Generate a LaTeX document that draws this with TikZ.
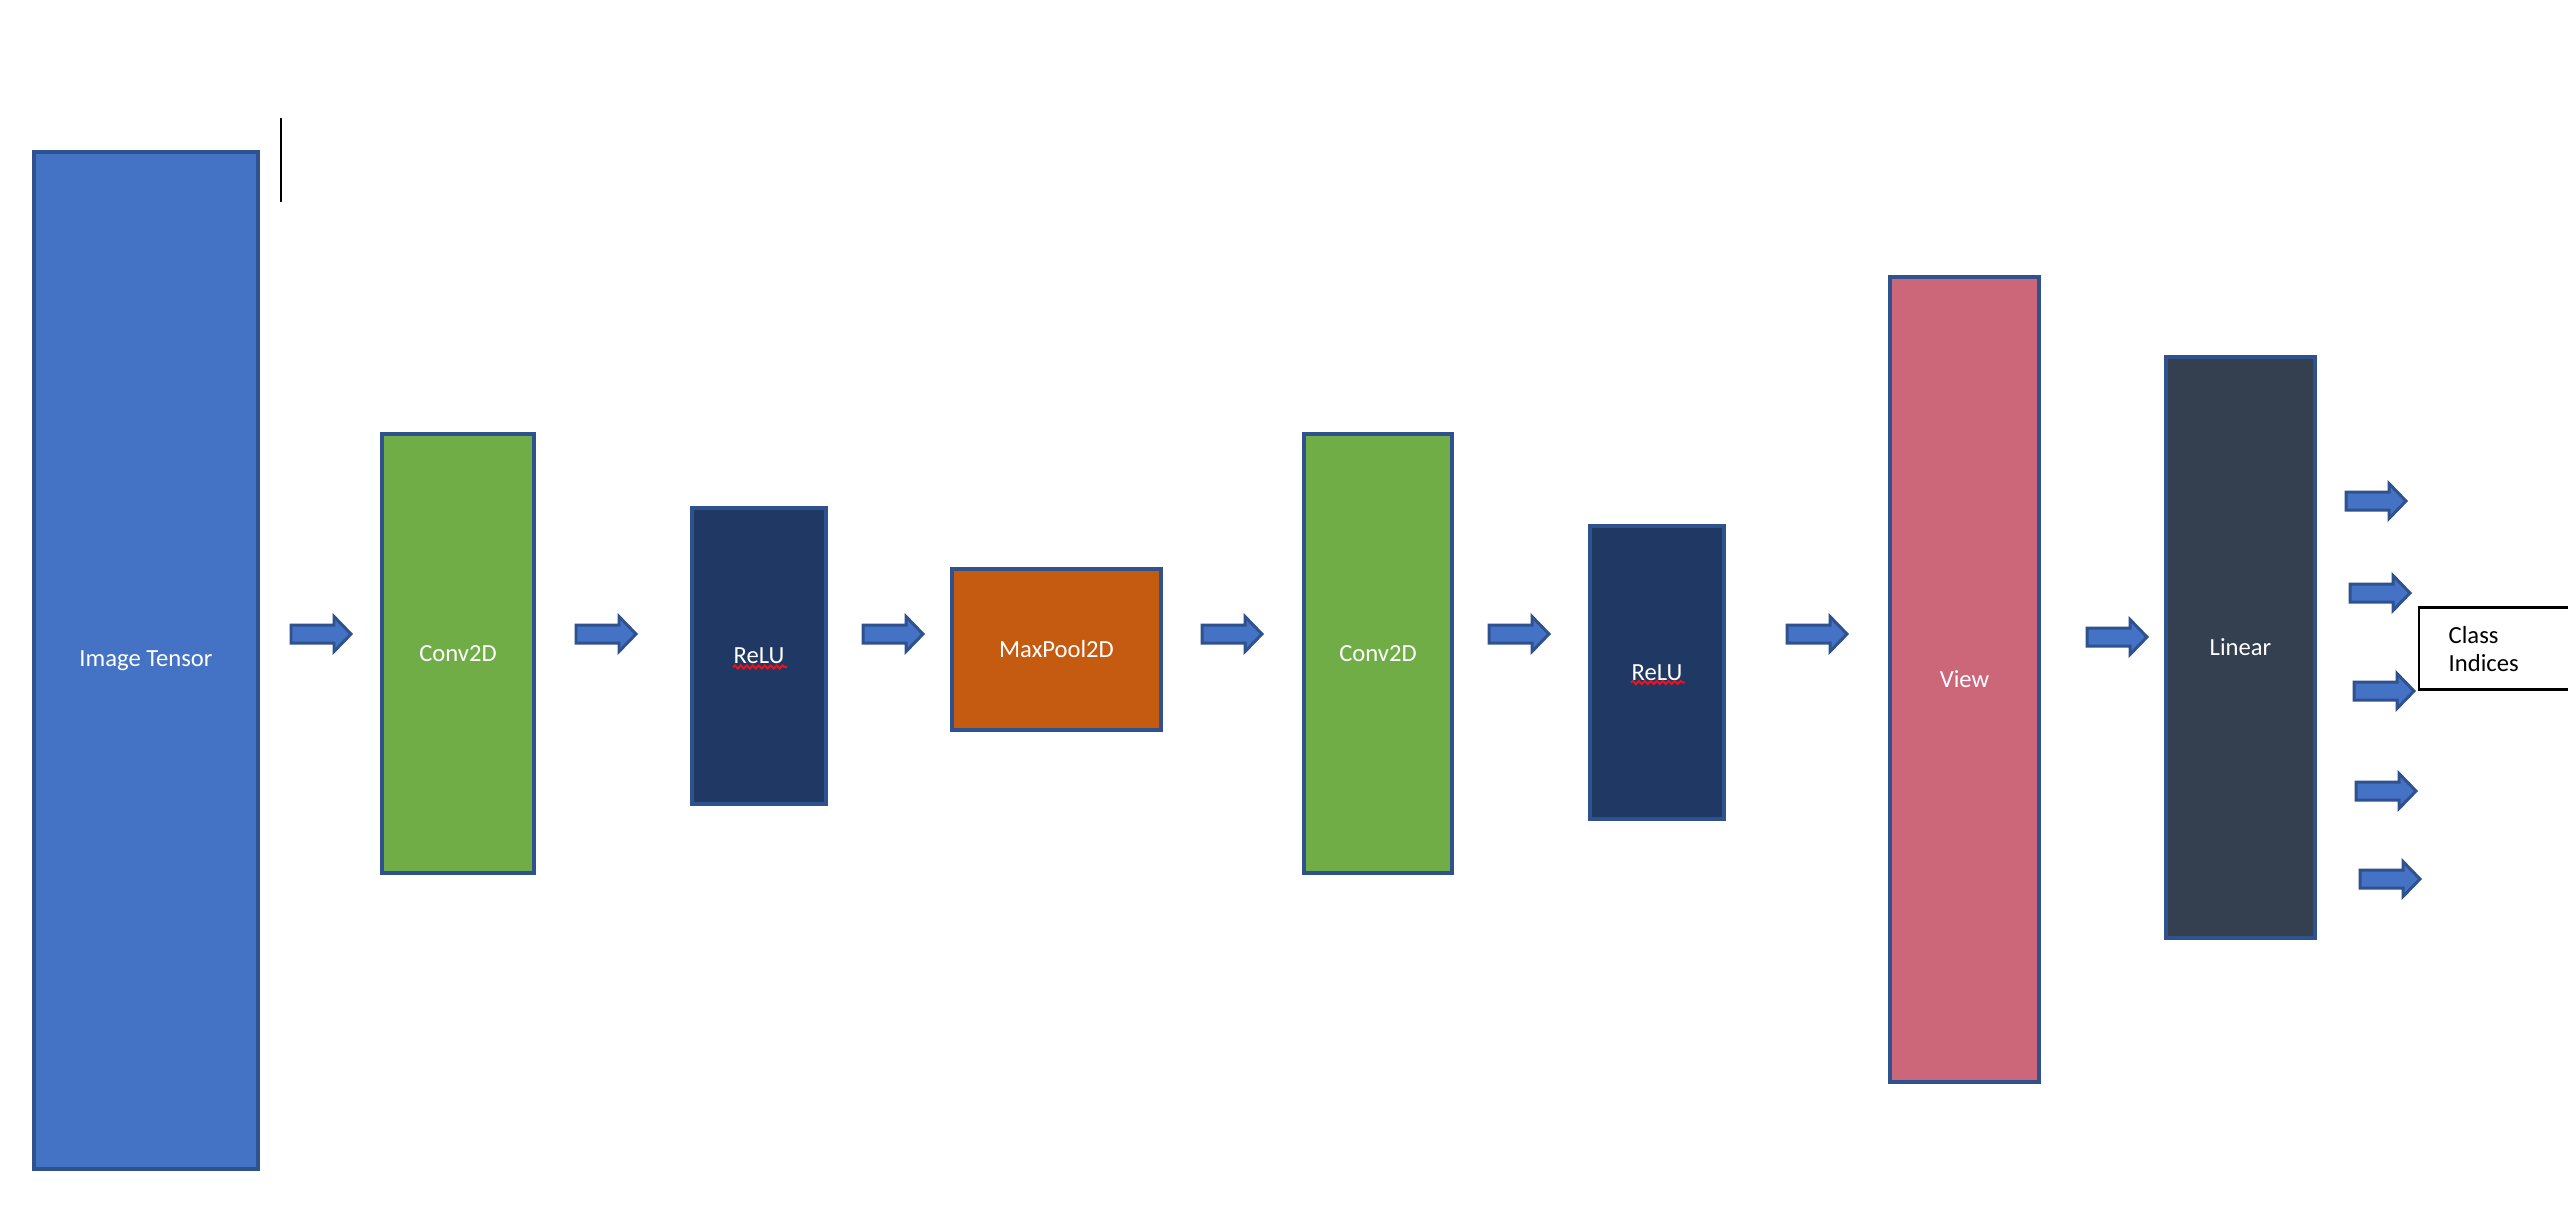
\documentclass[tikz,border=0pt]{standalone}
\usepackage{fontspec}
\setmainfont{Carlito}
\usetikzlibrary{decorations.pathmorphing}
\definecolor{edgeblue}{HTML}{2F528F}
\definecolor{tensorblue}{HTML}{4472C4}
\definecolor{convgreen}{HTML}{70AD47}
\definecolor{relunavy}{HTML}{203864}
\definecolor{poolorange}{HTML}{C55A11}
\definecolor{viewpink}{HTML}{CC6679}
\definecolor{linslate}{HTML}{343F50}
\definecolor{spellred}{HTML}{E8141E}
\tikzset{
  layerbox/.style={draw=edgeblue, line width=1.14pt, rectangle, inner sep=0pt, text=white},
  squiggle/.style={draw=spellred, line width=0.55pt, decorate, decoration={snake, amplitude=0.45pt, segment length=1.7pt}},
  pics/blockarrow/.style={code={
    \draw[draw=edgeblue, fill=tensorblue, line width=0.85pt, line join=miter]
      (0,-9) -- (43,-9) -- (43,-17.5) -- (60,0) -- (43,17.5) -- (43,9) -- (0,9) -- cycle;
  }}
}
\begin{document}
\begin{tikzpicture}[x=0.01cm, y=-0.01cm, font=\fontsize{7pt}{8.2pt}\selectfont]
\clip (0,0) rectangle (2568,1226);
\useasboundingbox (0,0) rectangle (2568,1226);
\fill[white] (0,0) rectangle (2568,1226);

% layers
\node[layerbox, fill=tensorblue, minimum width=2.24cm, minimum height=10.17cm] (tensor) at (146,660.5) {Image Tensor};
\node[layerbox, fill=convgreen, minimum width=1.52cm, minimum height=4.39cm] (conva) at (458,653.5) {Conv2D};
\node[layerbox, fill=relunavy, minimum width=1.34cm, minimum height=2.96cm] (relua) at (759,656) {ReLU};
\node[layerbox, fill=poolorange, minimum width=2.09cm, minimum height=1.61cm] (pool) at (1056.5,649.5) {MaxPool2D};
\node[layerbox, fill=convgreen, minimum width=1.48cm, minimum height=4.39cm] (convb) at (1378,653.5) {Conv2D};
\node[layerbox, fill=relunavy, minimum width=1.34cm, minimum height=2.93cm] (relub) at (1657,672.5) {ReLU};
\node[layerbox, fill=viewpink, minimum width=1.49cm, minimum height=8.05cm] (view) at (1964.5,679.5) {View};
\node[layerbox, fill=linslate, minimum width=1.49cm, minimum height=5.81cm] (linear) at (2240.5,647.5) {Linear};

% spell-check squiggles
\draw[squiggle] ([shift={(-26,11)}]relua.center) -- ([shift={(28,11)}]relua.center);
\draw[squiggle] ([shift={(-26,10)}]relub.center) -- ([shift={(28,10)}]relub.center);

% block arrows between layers
\pic at (291,634) {blockarrow};
\pic at (576,634) {blockarrow};
\pic at (863,634) {blockarrow};
\pic at (1202,634) {blockarrow};
\pic at (1489,634) {blockarrow};
\pic at (1787,634) {blockarrow};
\pic at (2087,637) {blockarrow};

% output arrows
\pic at (2346,501) {blockarrow};
\pic at (2350,593) {blockarrow};
\pic at (2354,691) {blockarrow};
\pic at (2356,791) {blockarrow};
\pic at (2360,879) {blockarrow};

% class indices box
\node[draw=black, line width=0.6pt, rectangle, minimum width=1.7cm, minimum height=0.82cm, inner sep=0pt] (classbox) at (2504,648.5) {};
\node[anchor=west, align=left, inner sep=0pt, text=black] (classtext) at (2448,649) {Class\\Indices};

% cursor line
\coordinate (cursortop) at (281,118);
\coordinate (cursorbot) at (281,202);
\draw[black, line width=0.75pt] (cursortop) -- (cursorbot);
\end{tikzpicture}
\end{document}
